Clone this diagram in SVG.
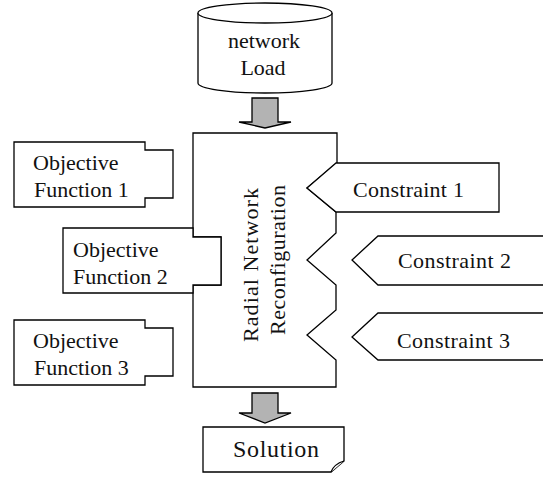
<svg xmlns="http://www.w3.org/2000/svg" width="543" height="477" viewBox="0 0 543 477">
<style>
.s{fill:#fff;stroke:#000;stroke-width:1.3;stroke-linejoin:miter}
.t{font-family:"Liberation Serif","Times New Roman",serif;font-size:22px;fill:#111}
.c{text-anchor:middle}
.a{fill:#b3b3b3;stroke:#000;stroke-width:1.3}
</style>
<rect width="543" height="477" fill="#fff"/>
<g id="load">
<path class="s" d="M198,13 V83 A67,10 0 0 0 332,83 V13"/>
<ellipse class="s" cx="265" cy="13" rx="67" ry="10"/>
<text class="t c" x="264" y="48">network</text>
<text class="t c" x="263" y="75">Load</text>
</g>
<g id="connectors">
<path class="a" d="M252,98 H278 V122 H291 L265,128 L239,122 H252 Z"/>
<path class="a" d="M252,393 H278 V413 H291 L265,423 L239,413 H252 Z"/>
</g>
<g id="main">
<path class="s" d="M193,133 H337 V163 L307,188 L336,212 V233 L307,260 L336,285 V310 L307,335 L336,360 V387 H193 V285 H221 V237 H193 Z"/>
<text class="t c" transform="translate(258,265) rotate(-90)" textLength="154" lengthAdjust="spacing">Radial Network</text>
<text class="t c" transform="translate(285,260) rotate(-90)" textLength="150" lengthAdjust="spacing">Reconfiguration</text>
</g>
<g id="obj1">
<path class="s" d="M14,142 H145 V150 H173 V198 H145 V207 H14 Z"/>
<text class="t" x="33" y="170">Objective</text>
<text class="t" x="34" y="197">Function 1</text>
</g>
<g id="obj2">
<path class="s" d="M63,228 H193 V237 H221 V285 H193 V293 H63 Z"/>
<text class="t" x="73" y="257">Objective</text>
<text class="t" x="73" y="284">Function 2</text>
</g>
<g id="obj3">
<path class="s" d="M14,320 H145 V328 H173 V376 H145 V385 H14 Z"/>
<text class="t" x="33" y="348">Objective</text>
<text class="t" x="34" y="375">Function 3</text>
</g>
<g id="con1">
<path class="s" d="M336,163 H499 V212 H336 L307,188 Z"/>
<text class="t" x="353" y="197" textLength="111" lengthAdjust="spacing">Constraint 1</text>
</g>
<g id="con2">
<path class="s" d="M378,236 H546 V285 H378 L352,260 Z"/>
<text class="t" x="398" y="268" textLength="113" lengthAdjust="spacing">Constraint 2</text>
</g>
<g id="con3">
<path class="s" d="M378,313 H546 V360 H378 L352,337 Z"/>
<text class="t" x="397" y="348" textLength="113" lengthAdjust="spacing">Constraint 3</text>
</g>
<g id="solution">
<path class="s" d="M203,427 H344 V461 L331,472 H203 Z"/>
<path class="s" d="M331,472 Q334,464 344,461"/>
<text class="t" x="233" y="457" style="font-size:24px" textLength="86" lengthAdjust="spacing">Solution</text>
</g>
</svg>
